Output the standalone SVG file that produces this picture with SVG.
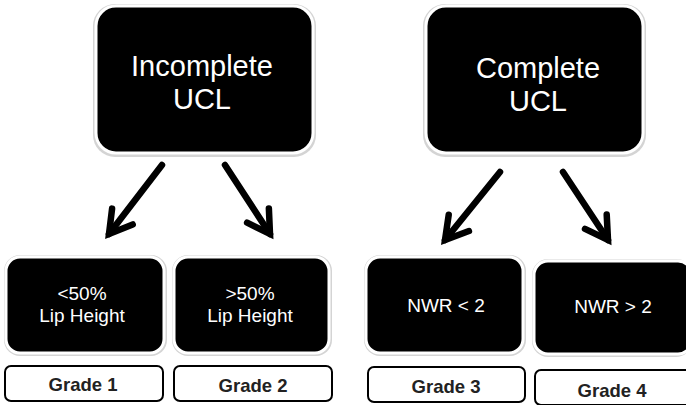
<svg xmlns="http://www.w3.org/2000/svg" width="686" height="405" viewBox="0 0 686 405">
<defs>
<marker id="chev" markerUnits="userSpaceOnUse" markerWidth="40" markerHeight="40" viewBox="-30 -20 40 40" refX="0" refY="0" orient="auto" overflow="visible">
<polyline points="-22,-13 0,0 -22,13" fill="none" stroke="#000" stroke-width="6.5" stroke-linecap="round" stroke-linejoin="miter"/>
</marker>
</defs>
<style>
.shadow{fill:#d4d4d4;}
.box{fill:#000;stroke:#fff;stroke-width:3;}
.t{font-family:"Liberation Sans",Arial,sans-serif;fill:#fff;text-anchor:middle;}
.big{font-size:29px;}
.small{font-size:19px;}
.grade{fill:#fff;stroke:#000;stroke-width:2;}
.gt{font-family:"Liberation Sans",Arial,sans-serif;font-weight:bold;font-size:18.5px;fill:#222;text-anchor:middle;}
.arr{stroke:#000;stroke-width:6.5;fill:none;stroke-linecap:round;marker-end:url(#chev);}
</style>
<rect width="686" height="405" fill="#fff"/>
<g id="incomplete">
<rect class="shadow" x="93" y="4" width="223" height="153" rx="22"/>
<rect class="box" x="96" y="6" width="217" height="147" rx="20"/>
<text class="t big" x="202" y="76">Incomplete</text>
<text class="t big" x="202" y="109">UCL</text>
</g>
<g id="complete">
<rect class="shadow" x="423" y="4" width="223" height="153" rx="22"/>
<rect class="box" x="426" y="6" width="217" height="147" rx="20"/>
<text class="t big" x="538" y="78">Complete</text>
<text class="t big" x="538" y="111">UCL</text>
</g>
<g id="lt50">
<rect class="shadow" x="4" y="255" width="163" height="101" rx="16"/>
<rect class="box" x="6" y="257" width="158" height="96" rx="14"/>
<text class="t small" x="82" y="300">&lt;50%</text>
<text class="t small" x="82" y="322">Lip Height</text>
</g>
<g id="gt50">
<rect class="shadow" x="172" y="255" width="160" height="101" rx="16"/>
<rect class="box" x="174" y="257" width="155" height="96" rx="14"/>
<text class="t small" x="250" y="300">&gt;50%</text>
<text class="t small" x="250" y="322">Lip Height</text>
</g>
<g id="nwrlt2">
<rect class="shadow" x="364" y="255" width="162" height="101" rx="16"/>
<rect class="box" x="366" y="257" width="157" height="96" rx="14"/>
<text class="t small" x="446" y="312">NWR &lt; 2</text>
</g>
<g id="nwrgt2">
<rect class="shadow" x="532" y="259" width="160" height="98" rx="16"/>
<rect class="box" x="534" y="261" width="158" height="93" rx="14"/>
<text class="t small" x="613" y="313">NWR &gt; 2</text>
</g>
<g id="grade1">
<rect class="grade" x="5" y="366" width="158" height="35" rx="6"/>
<text class="gt" x="83" y="391">Grade 1</text>
</g>
<g id="grade2">
<rect class="grade" x="174" y="366" width="158" height="35" rx="6"/>
<text class="gt" x="253" y="392">Grade 2</text>
</g>
<g id="grade3">
<rect class="grade" x="368" y="367" width="157" height="35" rx="6"/>
<text class="gt" x="446" y="393">Grade 3</text>
</g>
<g id="grade4">
<rect class="grade" x="535" y="370" width="160" height="35" rx="6"/>
<text class="gt" x="612" y="397">Grade 4</text>
</g>
<g id="connectors">
<line class="arr" x1="162" y1="165" x2="109" y2="234"/>
<line class="arr" x1="225" y1="165" x2="270" y2="234"/>
<line class="arr" x1="500" y1="172" x2="445" y2="240"/>
<line class="arr" x1="563" y1="172" x2="608" y2="240"/>
</g>
</svg>
